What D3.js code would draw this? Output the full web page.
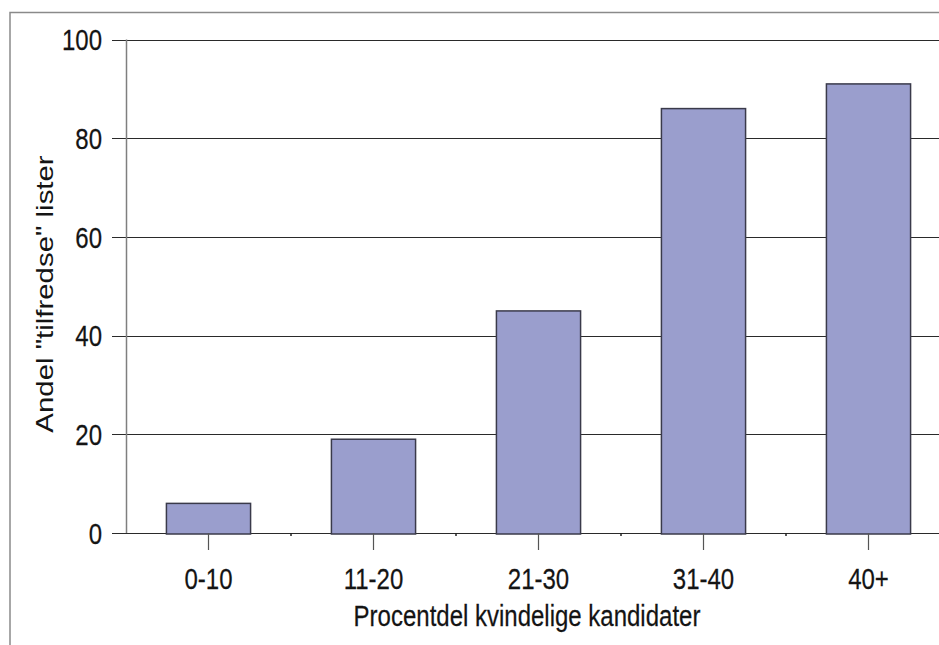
<!DOCTYPE html>
<html><head><meta charset="utf-8">
<script src="https://cdn.jsdelivr.net/npm/d3@7/dist/d3.min.js"></script>
<style>html,body{margin:0;padding:0;background:#fff;overflow:hidden}</style>
</head><body>
<svg id="c" width="939" height="645"></svg>
<script>
const categories = ["0-10","11-20","21-30","31-40","40+"];
const values = [6, 19, 45, 86, 91];
const yTicks = [0, 20, 40, 60, 80, 100];
const xTitle = "Procentdel kvindelige kandidater";
const yTitle = 'Andel "tilfredse" lister';

const svg = d3.select("#c");
const font = "'Liberation Sans', Arial, sans-serif";
const fs = 24, stretch = 1.25;
const txtColor = "#141414";

const x = d3.scaleBand().domain(categories).range([126, 951]).paddingInner(0.49).paddingOuter(0.245);
const y = d3.scaleLinear().domain([0, 100]).range([533, 39.5]);

function styleText(sel, size, sw) {
  return sel.attr("font-family", font).attr("font-size", size)
    .attr("fill", txtColor).attr("stroke", sw ? txtColor : "none").attr("stroke-width", sw || 0);
}

// frame
svg.append("path").attr("d", "M10,645V12.5H939").attr("fill","none").attr("stroke","#8a8a8a").attr("stroke-width",1.5);

// gridlines (and left ticks)
svg.append("g").selectAll("line").data(yTicks).join("line")
  .attr("x1", 112).attr("x2", 939)
  .attr("y1", d => Math.round(y(d))+0.5).attr("y2", d => Math.round(y(d))+0.5)
  .attr("stroke", "#2a2a2a").attr("stroke-width", 1.2);

// y axis line
svg.append("line").attr("x1",126.5).attr("x2",126.5).attr("y1",y(100)).attr("y2",y(0))
  .attr("stroke","#7f7f7f").attr("stroke-width",1.5);

// y tick labels
styleText(svg.append("g").selectAll("text").data(yTicks).join("text")
  .attr("transform", d => `translate(102,${y(d)}) scale(1,${stretch})`)
  .attr("y", fs*0.358)
  .attr("text-anchor","end"), fs, 0.2)
  .text(d => d);

// bars
svg.append("g").selectAll("rect").data(values).join("rect")
  .attr("x", (d,i) => x(categories[i]))
  .attr("width", x.bandwidth())
  .attr("y", d => y(d))
  .attr("height", d => y(0) - y(d) + 1)
  .attr("fill","#9a9ecd").attr("stroke","#3a3a4a").attr("stroke-width",1.5);

// x major ticks
svg.append("g").selectAll("line").data(categories).join("line")
  .attr("x1", d => x(d)+x.bandwidth()/2).attr("x2", d => x(d)+x.bandwidth()/2)
  .attr("y1", y(0)).attr("y2", 550).attr("stroke","#555").attr("stroke-width",1.2);
// minor ticks at category boundaries
svg.append("g").selectAll("line").data(categories.slice(1)).join("line")
  .attr("x1", d => x(d) - x.step()*x.paddingInner()/2).attr("x2", d => x(d) - x.step()*x.paddingInner()/2)
  .attr("y1", y(0)).attr("y2", y(0)+3).attr("stroke","#222").attr("stroke-width",1.5);

// x labels
styleText(svg.append("g").selectAll("text").data(categories).join("text")
  .attr("transform", d => `translate(${x(d)+x.bandwidth()/2},589) scale(1,${stretch})`)
  .attr("text-anchor","middle"), fs, 0.2)
  .text(d => d);

// x title
styleText(svg.append("text")
  .attr("transform", `translate(527,626) scale(1,${stretch})`)
  .attr("text-anchor","middle"), fs, 0.2)
  .text(xTitle);

// y title
styleText(svg.append("text")
  .attr("transform", `translate(53,294) rotate(-90) scale(${stretch},1)`)
  .attr("text-anchor","middle"), fs*0.98, 0)
  .text(yTitle);
</script>
</body></html>
